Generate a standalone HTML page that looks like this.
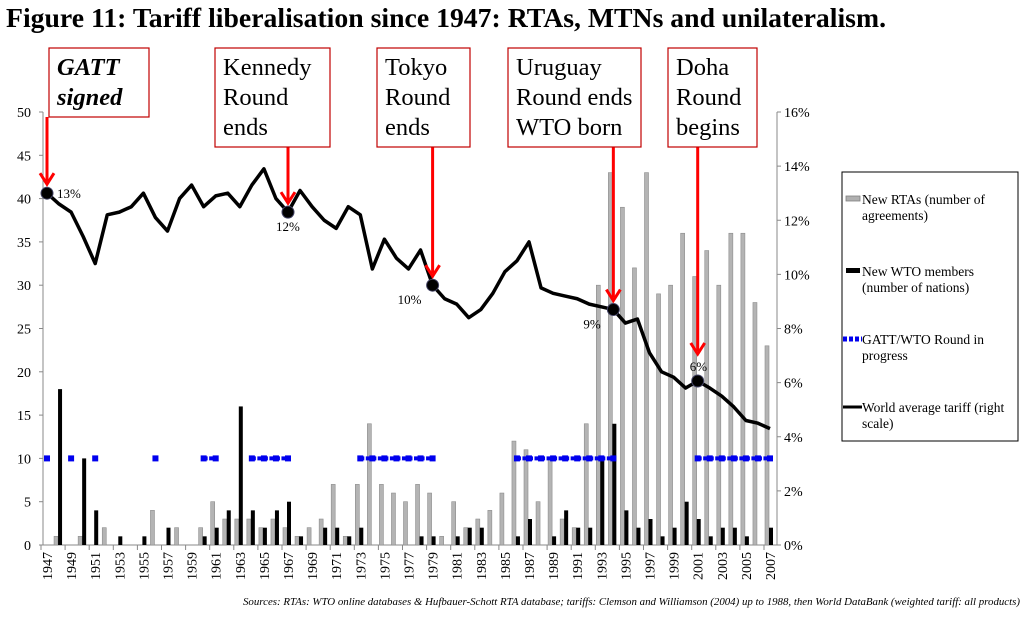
<!DOCTYPE html>
<html><head><meta charset="utf-8"><style>
body{margin:0;background:#fff;width:1030px;height:617px;overflow:hidden;font-family:"Liberation Serif",serif}
</style></head><body>
<svg width="1030" height="617" xmlns="http://www.w3.org/2000/svg" font-family="Liberation Serif, serif">
<text x="6" y="27" font-size="27" font-weight="bold" textLength="880" lengthAdjust="spacingAndGlyphs">Figure 11: Tariff liberalisation since 1947: RTAs, MTNs and unilateralism.</text>
<g id="axes"></g>
<g id="marks"></g>
<g id="annot"></g>
<g>
<rect x="842" y="172" width="176" height="269" fill="#fff" stroke="#000" stroke-width="1"/>
<rect x="846" y="196" width="14" height="5" fill="#b0b0b0" stroke="#808080" stroke-width="0.8"/>
<text x="862" y="204" font-size="13.5"><tspan>New RTAs (number of</tspan><tspan x="862" dy="16">agreements)</tspan></text>
<rect x="846" y="268" width="14" height="5" fill="#000"/>
<text x="862" y="276" font-size="13.5"><tspan>New WTO members</tspan><tspan x="862" dy="16">(number of nations)</tspan></text>
<line x1="843" y1="339" x2="862" y2="339" stroke="#0000ee" stroke-width="5" stroke-dasharray="4,2"/>
<text x="862" y="344" font-size="13.5"><tspan>GATT/WTO Round in</tspan><tspan x="862" dy="16">progress</tspan></text>
<line x1="843" y1="407" x2="862" y2="407" stroke="#000" stroke-width="3"/>
<text x="862" y="412" font-size="13.5"><tspan>World average  tariff (right</tspan><tspan x="862" dy="16">scale)</tspan></text>
</g>
<text x="1020" y="605" font-size="10" font-style="italic" text-anchor="end" textLength="777" lengthAdjust="spacingAndGlyphs">Sources: RTAs: WTO online databases &amp; Hufbauer-Schott RTA database;  tariffs:  Clemson and Williamson  (2004)  up to 1988,  then World DataBank   (weighted tariff: all products)</text>
</svg>
<script>
const years=[];for(let y=1947;y<=2007;y++)years.push(y);
const rtas=[0,1,0,1,0,2,0,0,0,4,0,2,0,2,5,3,3,3,2,3,2,1,2,3,7,1,7,14,7,6,5,7,6,1,5,2,3,4,6,12,11,5,10,3,2,14,30,43,39,32,43,29,30,36,31,34,30,36,36,28,23];
const wto=[0,18,0,10,4,0,1,0,1,0,2,0,0,1,2,4,16,4,2,4,5,1,0,2,2,1,2,0,0,0,0,1,1,0,1,2,2,0,0,1,3,0,1,4,2,2,10,14,4,2,3,1,2,5,3,1,2,2,1,0,2];
const roundYears=[1947,1949,1951,1956,1960,1961,1964,1965,1966,1967,1973,1974,1975,1976,1977,1978,1979,1986,1987,1988,1989,1990,1991,1992,1993,1994,2001,2002,2003,2004,2005,2006,2007];
const roundLevel=10;
const tariff=[13.0,12.6,12.3,11.4,10.4,12.2,12.3,12.5,13.0,12.1,11.6,12.8,13.3,12.5,12.9,13.0,12.5,13.3,13.9,12.8,12.3,13.1,12.5,12.0,11.7,12.5,12.2,10.2,11.3,10.6,10.2,10.9,9.6,9.1,8.9,8.4,8.7,9.3,10.1,10.5,11.2,9.5,9.3,9.2,9.1,8.9,8.8,8.7,8.2,8.35,7.1,6.4,6.2,5.8,6.06,5.8,5.5,5.1,4.6,4.5,4.3];
const leftTicks=[0,5,10,15,20,25,30,35,40,45,50];
const rightTicks=[0,2,4,6,8,10,12,14,16];
const events=[{year:1947,label:"13%",lines:["GATT","signed"],bx:49,bw:100,bh:69,italic:true,lx:10,ly:5,stop:12},
{year:1967,label:"12%",lines:["Kennedy","Round","ends"],bx:215,bw:115,bh:99,lx:-12,ly:19,stop:12},
{year:1979,label:"10%",lines:["Tokyo","Round","ends"],bx:377,bw:93,bh:99,lx:-35,ly:19,stop:12},
{year:1994,label:"9%",lines:["Uruguay","Round ends","WTO born"],bx:508,bw:133,bh:99,lx:-30,ly:19,stop:12},
{year:2001,label:"6%",lines:["Doha","Round","begins"],bx:668,bw:89,bh:99,lx:-8,ly:-10,stop:30}];
const X=y=>47+(y-1947)*12.05;
const YL=v=>545-v*8.66;
const YR=v=>545-v/16*433;
const NS="http://www.w3.org/2000/svg";
function mk(tag,attrs,parent,txt){const e=document.createElementNS(NS,tag);for(const k in attrs)e.setAttribute(k,attrs[k]);if(txt!==undefined)e.textContent=txt;parent.appendChild(e);return e;}
const ax=document.getElementById('axes'),mg=document.getElementById('marks'),an=document.getElementById('annot');
let e=mk('line',{x1:43,y1:112,x2:43,y2:545,stroke:'#888'},ax);


e=mk('line',{x1:777,y1:112,x2:777,y2:545,stroke:'#888'},ax);


e=mk('line',{x1:43,y1:545,x2:777,y2:545,stroke:'#888'},ax);


leftTicks.forEach(v=>{mk('line',{x1:39,y1:YL(v),x2:43,y2:YL(v),stroke:'#888'},ax);
e=mk('text',{x:31,y:YL(v)+5,'font-size':14,'text-anchor':'end'},ax,String(v));

});
rightTicks.forEach(v=>{mk('line',{x1:777,y1:YR(v),x2:781,y2:YR(v),stroke:'#888'},ax);
e=mk('text',{x:784,y:YR(v)+5,'font-size':14},ax,v+'%');

});
years.forEach((y,i)=>{const x=X(y);
if(i%2===0){mk('line',{x1:x-6,y1:545,x2:x-6,y2:550,stroke:'#888'},ax);
e=mk('text',{x:0,y:0,'font-size':14,'text-anchor':'end',transform:`translate(${x+5},552) rotate(-90)`},ax,String(y));

}
if(rtas[i]>0){e=mk('rect',{x:x-5,y:YL(rtas[i]),width:4,height:rtas[i]*8.66,fill:'#b4b4b4',stroke:'#8c8c8c','stroke-width':0.6},mg);

}
if(wto[i]>0){e=mk('rect',{x:x-1,y:YL(wto[i]),width:4,height:wto[i]*8.66,fill:'#000'},mg);

}
});
roundYears.forEach(y=>{e=mk('rect',{x:X(y)-3,y:YL(roundLevel)-3,width:6,height:6,fill:'#0000ee'},mg);


if(roundYears.includes(y+1)){mk('line',{x1:X(y),y1:YL(roundLevel),x2:X(y+1),y2:YL(roundLevel),stroke:'#0000ee','stroke-width':4,'stroke-dasharray':'4,1.5'},mg);}});
e=mk('polyline',{points:years.map((y,i)=>X(y)+','+YR(tariff[i])).join(' '),fill:'none',stroke:'#000','stroke-width':3.5,'stroke-linejoin':'round'},mg);


events.forEach(ev=>{const i=ev.year-1947,x=X(ev.year),y=YR(tariff[i]);
e=mk('circle',{cx:x,cy:y,r:6,fill:'#000','stroke':'#446','stroke-width':1},an);


const top=48,bot=top+ev.bh;
const ay=y-ev.stop;
mk('line',{x1:x,y1:bot,x2:x,y2:ay,stroke:'#ff0000','stroke-width':3},an);
mk('polyline',{points:`${x-7},${ay-8} ${x},${ay+3} ${x+7},${ay-8}`,fill:'none',stroke:'#ff0000','stroke-width':3},an);
const lbl=mk('text',{x:x+ev.lx,y:y+ev.ly,'font-size':13,fill:'#000'},an,ev.label);


e=mk('rect',{x:ev.bx,y:top,width:ev.bw,height:ev.bh,fill:'#fff',stroke:'#c00000','stroke-width':1.2},an);


ev.lines.forEach((t,k)=>{const tx=mk('text',{x:ev.bx+8,y:top+27+k*30,'font-size':24.5,'font-style':ev.italic?'italic':'normal','font-weight':ev.italic?'bold':'normal'},an,t);

});
});
</script>
</body></html>
